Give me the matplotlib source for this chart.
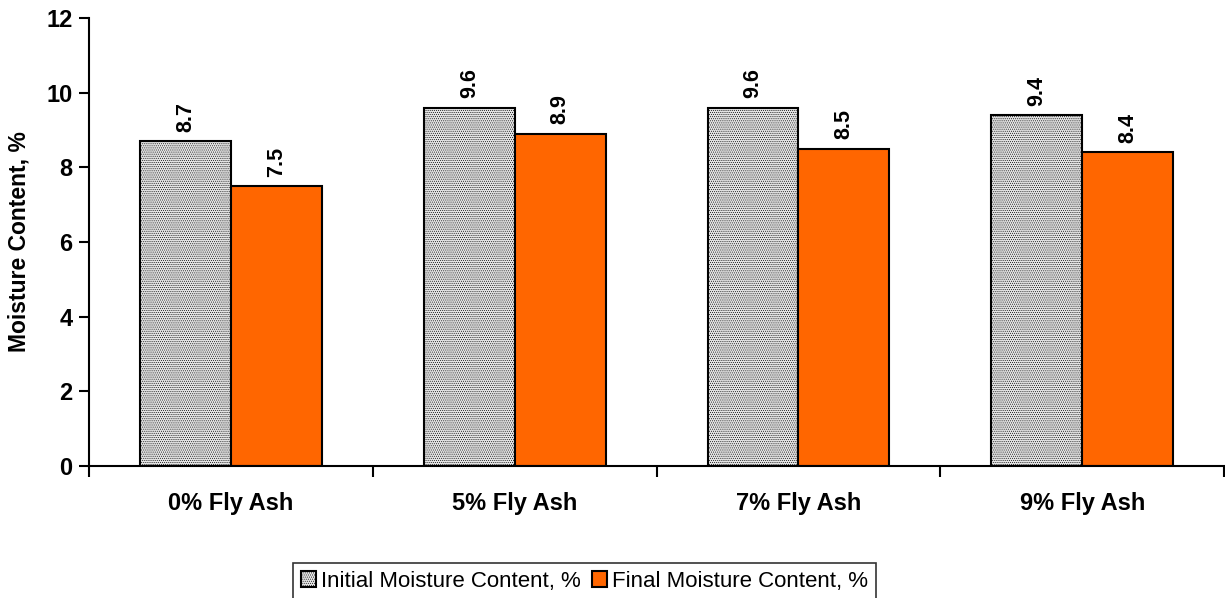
import matplotlib
matplotlib.use("Agg")
import matplotlib.pyplot as plt
import numpy as np

categories = ["0% Fly Ash", "5% Fly Ash", "7% Fly Ash", "9% Fly Ash"]
initial = [8.7, 9.6, 9.6, 9.4]
final = [7.5, 8.9, 8.5, 8.4]
series_names = ["Initial Moisture Content, %", "Final Moisture Content, %"]

plt.rcParams['font.family'] = ['Liberation Sans', 'DejaVu Sans']
plt.rcParams['hatch.color'] = '#c4c4c4'
plt.rcParams['hatch.linewidth'] = 0.4

fig = plt.figure(figsize=(12.25, 5.98), dpi=100)
ax = fig.add_axes([0.0727, 0.2207, 0.9266, 0.7493])

x = np.arange(len(categories))
w = 0.32
b1 = ax.bar(x - w/2, initial, w, color='#e4e4e4', edgecolor='black', linewidth=1.5,
            hatch='........', label=series_names[0])
b2 = ax.bar(x + w/2, final, w, color='#ff6600', edgecolor='black', linewidth=1.5,
            label=series_names[1])

for bars, vals in ((b1, initial), (b2, final)):
    for r, v in zip(bars, vals):
        ax.text(r.get_x() + r.get_width()/2, v + 0.25, f"{v:.1f}", rotation=90,
                ha='center', va='bottom', fontsize=15.5, fontweight='bold')

ax.set_xlim(-0.5, len(categories) - 0.5)
ax.set_ylim(0, 12)
ax.set_yticks([0, 2, 4, 6, 8, 10, 12])
ax.tick_params(axis='y', labelsize=17, width=1.5, length=7, direction='out', pad=5)
for t in ax.get_yticklabels():
    t.set_fontweight('bold')
ax.set_xticks(x)
ax.set_xticklabels(categories, fontsize=17, fontweight='bold')
ax.tick_params(axis='x', which='major', length=0, pad=19)
ax.set_xticks(np.arange(-0.5, len(categories)), minor=True)
ax.tick_params(axis='x', which='minor', length=8, width=1.5, direction='out')

for s in ['top', 'right']:
    ax.spines[s].set_visible(False)
for s in ['left', 'bottom']:
    ax.spines[s].set_linewidth(1.5)

ax.set_ylabel("Moisture Content, %", fontsize=16.5, fontweight='bold', labelpad=11)

leg = fig.legend(handles=[b1, b2], labels=series_names, loc='center',
                 bbox_to_anchor=(0.477, 0.028), ncol=2, fontsize=16, frameon=True,
                 fancybox=False, edgecolor='black', handlelength=0.7, handleheight=0.7,
                 handletextpad=0.2, columnspacing=0.5, borderpad=0.35, borderaxespad=0)
leg.get_frame().set_linewidth(1.2)

fig.savefig("out.png", dpi=100)
